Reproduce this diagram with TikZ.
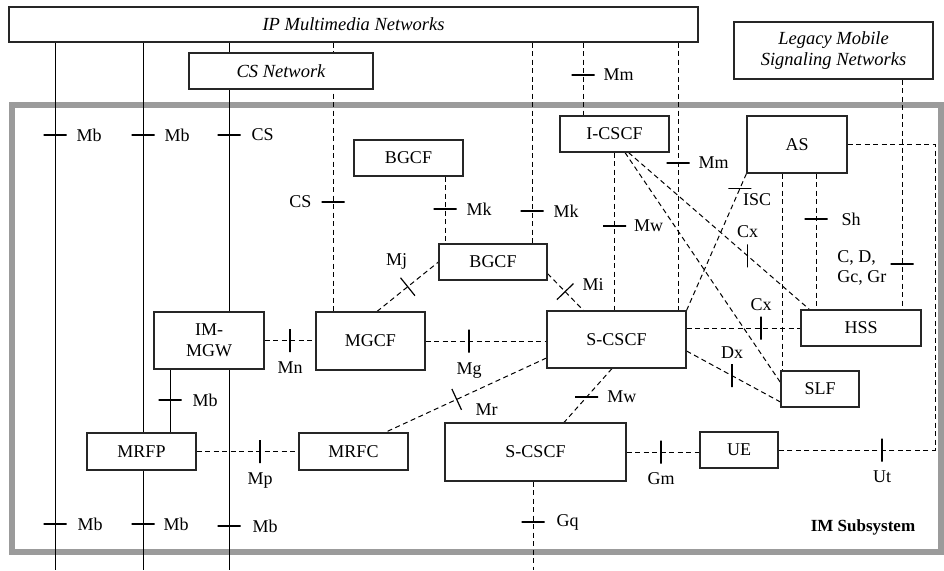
\documentclass[tikz,border=0pt]{standalone}
\usepackage{fontspec}
\setmainfont{Liberation Serif}
\usetikzlibrary{positioning,calc}
\pgfdeclarelayer{frame}
\pgfdeclarelayer{wires}
\pgfsetlayers{frame,wires,main}
\definecolor{framegray}{RGB}{155,155,155}
\begin{document}
\begin{tikzpicture}[x=1pt,y=-1pt,
  font=\fontsize{18}{21}\selectfont,
  box/.style={draw=black!85, line width=1.1pt, fill=white, inner sep=0pt, align=center},
  ital/.style={font=\fontsize{18.5}{21}\selectfont\itshape},
  wire/.style={line width=1pt},
  dline/.style={wire, dash pattern=on 5pt off 3.5pt},
  tickbase/.style={draw=black, solid, line width=1.2pt, inner sep=0pt, outer sep=0pt, fill=none},
  tickh/.style={tickbase, minimum width=23pt, minimum height=0pt},
  tickv/.style={tickbase, minimum width=0pt, minimum height=23pt},
  tickp/.style={tickv, sloped},
  lbl/.style={inner sep=0pt}]
\useasboundingbox (0,0) rectangle (944,570);

% IM subsystem frame
\begin{pgfonlayer}{frame}
\node[draw=framegray, line width=6pt, minimum width=929pt, minimum height=447pt, inner sep=0pt] (ims) at (476.5,328.5) {};
\end{pgfonlayer}

% functional entities and networks
\node[box, ital, minimum width=689pt, minimum height=35pt] (ip) at (353.5,24.5) {IP Multimedia Networks};
\node[box, ital, minimum width=184pt, minimum height=36pt] (csn) at (281,71) {CS Network};
\node[box, ital, minimum width=199pt, minimum height=57pt] (legacy) at (833.5,50.5) {Legacy Mobile\\Signaling Networks};
\node[box, minimum width=109pt, minimum height=36pt] (bgcfA) at (408.5,158) {BGCF};
\node[box, minimum width=109pt, minimum height=36pt] (icscf) at (614.5,134) {I-CSCF};
\node[box, minimum width=100pt, minimum height=57pt] (as) at (797,144.5) {AS};
\node[box, minimum width=108pt, minimum height=36pt] (bgcfB) at (493,262) {BGCF};
\node[box, minimum width=110pt, minimum height=57pt] (immgw) at (209,340.5) {IM-\\MGW};
\node[box, minimum width=109pt, minimum height=58pt] (mgcf) at (370.5,341) {MGCF};
\node[box, minimum width=139pt, minimum height=57pt] (scscf) at (616.5,339.5) {S-CSCF};
\node[box, minimum width=120pt, minimum height=36pt] (hss) at (861,328) {HSS};
\node[box, minimum width=78pt, minimum height=36pt] (slf) at (820,389) {SLF};
\node[box, minimum width=109pt, minimum height=37pt] (mrfp) at (141.5,451.5) {MRFP};
\node[box, minimum width=109pt, minimum height=37pt] (mrfc) at (353.5,451.5) {MRFC};
\node[box, minimum width=181pt, minimum height=58pt] (scscf2) at (535.5,452) {S-CSCF};
\node[box, minimum width=78pt, minimum height=36pt] (ue) at (739,450) {UE};

% free ends and bends
\coordinate (b1) at (55,570);
\coordinate (b2) at (143,570);
\coordinate (b3) at (229,570);
\coordinate (asx) at (782,389);
\coordinate (utc) at (935,300);

% reference point marks on straight runs
\node[tickh] (tmbA) at (55,135) {};
\node[tickh] (tmbB) at (143,135) {};
\node[tickh] (tcsA) at (229,135) {};
\node[tickh] (tmbC) at (55,524) {};
\node[tickh] (tmbD) at (143,524) {};
\node[tickh] (tmbE) at (229,526) {};
\node[tickh] (tmb) at (170,400) {};
\node[tickh] (tcs) at (333,202) {};
\node[tickh] (tmk1) at (445,209) {};
\node[tickh] (tmk2) at (532,211) {};
\node[tickh] (tmm1) at (583,75) {};
\node[tickh] (tmm2) at (678,163) {};
\node[tickh] (tmw) at (614.5,226) {};
\node[tickh] (tsh) at (816,219) {};
\node[tickh] (tcd) at (902,264) {};
\node[tickh] (tgq) at (533,522) {};
\node[tickv] (tmn) at (290,340.5) {};
\node[tickv] (tmg) at (469,341) {};
\node[tickv] (tmp) at (260,451.5) {};
\node[tickv] (tgm) at (661,452) {};
\node[tickv] (tut) at (882,450) {};
\node[tickv] (tcx2) at (761,328) {};

\begin{pgfonlayer}{wires}
% bearer trunks
\draw[wire] (ip.south -| b1) -- (b1);
\draw[wire] (ip.south -| b2) -- (b2);
\draw[wire] (ip.south -| b3) -- (b3);
\draw[wire] (immgw.south -| tmb) -- (mrfp.north -| tmb);
% signalling links
\draw[dline] (ip.south -| tcs) -- (mgcf.north -| tcs);
\draw[dline] (ip.south -| tmk2) -- (bgcfB.north -| tmk2);
\draw[dline] (ip.south -| tmm1) -- (icscf.north -| tmm1);
\draw[dline] (ip.south -| tmm2) -- (scscf.north -| tmm2);
\draw[dline] (bgcfA.south -| tmk1) -- (bgcfB.north -| tmk1);
\draw[dline] (icscf.south) -- (icscf.south |- scscf.north);
\draw[dline] ([xshift=6.5pt]mgcf.north) -- (bgcfB.west) node[tickp, pos=.5] (tmj) {};
\draw[dline] ([yshift=7pt]bgcfB.south east) -- ([xshift=37pt]scscf.north west) node[tickp, pos=.49] (tmi) {};
\draw[dline] (mgcf.east) -- (mgcf.east -| scscf.west);
\draw[dline] (immgw.east) -- (immgw.east -| mgcf.west);
\draw[dline] ([yshift=-18.5pt]scscf.west) -- ([xshift=31.5pt]mrfc.north) node[tickp, pos=.556] (tmr) {};
\draw[dline] (mrfp.east) -- (mrfc.west);
\draw[dline] ([xshift=-4.5pt]scscf.south) -- ([xshift=28.5pt]scscf2.north) node[tickh, pos=.527] (tmw2) {};
\draw[dline] (scscf2.south -| tgq) -- (tgq |- b1);
\draw[dline] (scscf2.east) -- (scscf2.east -| ue.west);
\draw[dline] (as.east) -- (as.east -| utc) |- (ue.east);
\draw[dline] (scscf.east |- hss.west) -- (hss.west);
\draw[dline] ([yshift=-11.5pt]scscf.east) -- ([yshift=-13pt]slf.west) node[tickv, pos=.484] (tdx) {};
\draw[dline] (as.south -| asx) -- (slf.north -| asx);
\draw[dline] (as.south -| tsh) -- (hss.north -| tsh);
\draw[dline] (legacy.south -| tcd) -- (hss.north -| tcd);
\draw[dline] (as.south west) -- (scscf.north east) node[tickh, pos=.11] (tisc) {};
\draw[dline] ([xshift=10.5pt]icscf.south) -- ([yshift=-12pt]slf.north west);
\draw[dline] ([xshift=14pt]icscf.south) -- ([xshift=9pt]hss.north west) node[tickv, pos=.658] (tcx1) {};
\end{pgfonlayer}

% reference point names
\node[lbl, right=10pt of tmbA] (lmbA) {Mb};
\node[lbl, right=10pt of tmbB] (lmbB) {Mb};
\node[lbl, right=11pt of tcsA] (lcsA) {CS};
\node[lbl, right=11pt of tmbC] (lmbC) {Mb};
\node[lbl, right=9pt of tmbD] (lmbD) {Mb};
\node[lbl, right=12pt of tmbE] (lmbE) {Mb};
\node[lbl, right=11pt of tmb] (lmb) {Mb};
\node[lbl, left=10pt of tcs] (lcs) {CS};
\node[lbl, right=10pt of tmk1] (lmk1) {Mk};
\node[lbl, right=10pt of tmk2] (lmk2) {Mk};
\node[lbl, right=9pt of tmm1] (lmm1) {Mm};
\node[lbl, right=9pt of tmm2] (lmm2) {Mm};
\node[lbl, right=8pt of tmw] (lmw) {Mw};
\node[lbl, right=14pt of tsh] (lsh) {Sh};
\node[lbl, align=left, font=\fontsize{18}{20}\selectfont, anchor=east] (lcd) at ([xshift=-4pt,yshift=-4pt]tcd.west) {C, D,\\Gc, Gr};
\node[lbl, right=12pt of tgq] (lgq) {Gq};
\node[lbl, below=10pt of tmn] (lmn) {Mn};
\node[lbl, below=10pt of tmg] (lmg) {Mg};
\node[lbl, below=10pt of tmp] (lmp) {Mp};
\node[lbl, below=9pt of tgm] (lgm) {Gm};
\node[lbl, below=9pt of tut] (lut) {Ut};
\node[lbl, above=6pt of tcx2] (lcx2) {Cx};
\node[lbl, above=6pt of tcx1] (lcx1) {Cx};
\node[lbl, above=5pt of tdx] (ldx) {Dx};
\node[lbl, anchor=north west] (lisc) at ([xshift=3pt,yshift=-5pt]tisc.center) {ISC};
\node[lbl] (lmj) at ([xshift=-11pt,yshift=25pt]tmj.center) {Mj};
\node[lbl] (lmi) at ([xshift=28pt,yshift=7pt]tmi.center) {Mi};
\node[lbl] (lmr) at ([xshift=30pt,yshift=-10pt]tmr.center) {Mr};
\node[lbl, right=9pt of tmw2] (lmw2) {Mw};

\node[lbl, font=\fontsize{17}{20}\selectfont\bfseries] (imslabel) at (863,527) {IM Subsystem};
\end{tikzpicture}
\end{document}
